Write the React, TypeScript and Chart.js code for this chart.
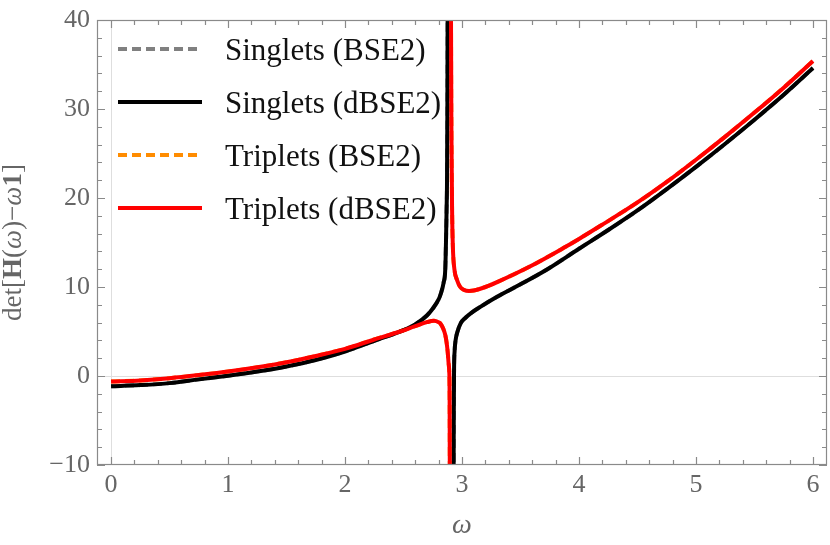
import React, { useEffect, useRef } from 'react';
import { Chart, registerables } from 'chart.js';

Chart.register(...registerables);

// ---------- data ----------
const seriesNames = ['Singlets (BSE2)', 'Singlets (dBSE2)', 'Triplets (BSE2)', 'Triplets (dBSE2)'];
const seriesColors = ['#808080', '#000000', '#ff8c00', '#ff0000'];

const omegaSinglets = [
  0, 0.25, 0.5, 0.75, 1.0, 1.25, 1.5, 1.75, 2.0, 2.25, 2.5, 2.6, 2.7, 2.757, 2.8, 2.815, 2.843,
  2.857, 2.863, 2.868, 2.872, 2.875, 2.877, 2.879, 2.9,
  2.926, 2.928, 2.93, 2.932, 2.937, 2.945, 2.962, 2.99, 3.03, 3.08, 3.16, 3.3, 3.5, 3.73, 4.0,
  4.25, 4.5, 4.75, 5.0, 5.25, 5.5, 5.75, 6.0,
];
const singletsDBSE2: (number | null)[] = [
  -1.15, -1.02, -0.8, -0.38, 0.03, 0.5, 1.07, 1.8, 2.75, 3.95, 5.15, 5.8, 6.8, 7.7, 8.6, 9.1, 10.5,
  12.0, 15.0, 18.5, 22.0, 30.0, 40.0, 60.0, null,
  -60.0, -15.0, -4.0, 0.5, 2.8, 4.0, 5.0, 5.95, 6.55, 7.1, 7.8, 8.9, 10.3, 12.0, 14.3,
  16.4, 18.6, 21.0, 23.5, 26.1, 28.8, 31.6, 34.6,
];
const singletsBSE2 = singletsDBSE2;

const omegaTriplets = [
  0, 0.25, 0.5, 0.75, 1.0, 1.25, 1.5, 1.75, 2.0, 2.25, 2.47, 2.6, 2.7, 2.76, 2.8, 2.815, 2.84,
  2.857, 2.868, 2.877, 2.885, 2.891, 2.894, 2.8955, 2.897, 2.9,
  2.903, 2.906, 2.91, 2.915, 2.922, 2.935, 2.957, 2.985, 3.014, 3.06, 3.1, 3.2, 3.3, 3.58, 3.87,
  4.0, 4.18, 4.5, 4.75, 5.0, 5.25, 5.5, 5.75, 6.0,
];
const tripletsDBSE2: (number | null)[] = [
  -0.63, -0.5, -0.25, 0.1, 0.5, 0.98, 1.55, 2.25, 3.05, 4.1, 5.0, 5.6, 6.05, 6.2, 6.05, 5.9, 5.3,
  4.6, 3.8, 2.8, 1.5, 0.5, -2.0, -10.0, -40.0, null,
  70.0, 40.0, 27.0, 19.0, 14.5, 12.0, 10.8, 10.0, 9.7, 9.55, 9.6, 10.0, 10.55, 12.3, 14.4,
  15.4, 16.85, 19.5, 21.8, 24.3, 26.9, 29.6, 32.4, 35.4,
];
const tripletsBSE2 = tripletsDBSE2;

const xTicks = [0, 1, 2, 3, 4, 5, 6];
const yTicks = [-10, 0, 10, 20, 30, 40];
const xRange = [-0.12, 6.12];
const yRange = [-10, 40];
const xMinorStep = 0.2;
const yMinorStep = 2;

// ---------- styling ----------
const SERIF = "'Liberation Serif', 'Times New Roman', serif";
const AXIS_GRAY = '#666666';
const FRAME_GRAY = '#8a8a8a';

const toPoints = (xs: number[], ys: (number | null)[]) => xs.map((x, i) => ({ x, y: ys[i] }));

const mmaPlugin = {
  id: 'mmaFrame',
  beforeDatasetsDraw(chart: any) {
    const { ctx, chartArea: a, scales } = chart;
    const x = scales.x, y = scales.y;
    ctx.save();
    ctx.strokeStyle = '#dedede';
    ctx.lineWidth = 1;
    const y0 = Math.round(y.getPixelForValue(0)) + 0.5;
    ctx.beginPath(); ctx.moveTo(a.left, y0); ctx.lineTo(a.right, y0); ctx.stroke();
    const x0 = Math.round(x.getPixelForValue(0)) + 0.5;
    ctx.beginPath(); ctx.moveTo(x0, a.top); ctx.lineTo(x0, a.bottom); ctx.stroke();
    ctx.restore();
  },
  afterDatasetsDraw(chart: any) {
    const { ctx, chartArea: a, scales } = chart;
    const x = scales.x, y = scales.y;
    ctx.save();
    // frame
    ctx.strokeStyle = FRAME_GRAY;
    ctx.lineWidth = 1.2;
    ctx.strokeRect(a.left + 0.5, a.top + 0.5, a.right - a.left - 1, a.bottom - a.top - 1);
    // ticks (inward, all four sides)
    const major = 8, minor = 5;
    const nx = Math.round((xTicks[xTicks.length - 1] - xTicks[0]) / xMinorStep);
    for (let i = 0; i <= nx; i++) {
      const v = xTicks[0] + i * xMinorStep;
      const isMajor = xTicks.some((t) => Math.abs(t - v) < 1e-6);
      const len = isMajor ? major : minor;
      const px = Math.round(x.getPixelForValue(v)) + 0.5;
      ctx.beginPath();
      ctx.moveTo(px, a.bottom); ctx.lineTo(px, a.bottom - len);
      ctx.moveTo(px, a.top); ctx.lineTo(px, a.top + len);
      ctx.stroke();
    }
    const ny = Math.round((yTicks[yTicks.length - 1] - yTicks[0]) / yMinorStep);
    for (let i = 0; i <= ny; i++) {
      const v = yTicks[0] + i * yMinorStep;
      const isMajor = yTicks.some((t) => Math.abs(t - v) < 1e-6);
      const len = isMajor ? major : minor;
      const py = Math.round(y.getPixelForValue(v)) + 0.5;
      ctx.beginPath();
      ctx.moveTo(a.left, py); ctx.lineTo(a.left + len, py);
      ctx.moveTo(a.right, py); ctx.lineTo(a.right - len, py);
      ctx.stroke();
    }
    // legend
    chart.data.datasets.forEach((ds: any, k: number) => {
      const ly = a.top + 29 + 53 * k;
      ctx.strokeStyle = ds.borderColor;
      ctx.lineWidth = 4;
      ctx.setLineDash(ds.borderDash || []);
      ctx.beginPath();
      ctx.moveTo(a.left + 21, ly);
      ctx.lineTo(a.left + 105, ly);
      ctx.stroke();
      ctx.setLineDash([]);
      ctx.fillStyle = '#111111';
      ctx.font = `31px ${SERIF}`;
      ctx.textAlign = 'left';
      ctx.textBaseline = 'alphabetic';
      ctx.fillText(ds.label, a.left + 128, ly + 11);
    });
    // y-axis title (rich text)
    const parts: [string, string][] = [
      ['det[', ''], ['H', 'bold '], ['(', ''], ['ω', 'italic '], [')−', ''], ['ω', 'italic '], ['1', 'bold '], [']', ''],
    ];
    const size = 27;
    let total = 0;
    const widths = parts.map(([t, s]) => {
      ctx.font = `${s}${size}px ${SERIF}`;
      const w = ctx.measureText(t).width;
      total += w;
      return w;
    });
    ctx.translate(21, (a.top + a.bottom) / 2);
    ctx.rotate(-Math.PI / 2);
    ctx.fillStyle = AXIS_GRAY;
    ctx.textBaseline = 'alphabetic';
    let cx = -total / 2;
    parts.forEach(([t, s], i) => {
      ctx.font = `${s}${size}px ${SERIF}`;
      ctx.fillText(t, cx, 0);
      cx += widths[i];
    });
    ctx.restore();
  },
};

const fmt = (v: number) => (v < 0 ? '\u2212' + Math.abs(v) : String(v));

export default function App() {
  const ref = useRef<HTMLCanvasElement | null>(null);
  useEffect(() => {
    if (!ref.current) return;
    const mk = (label: string, xs: number[], ys: (number | null)[], color: string, dash: number[], order: number) => ({
      label,
      data: toPoints(xs, ys),
      borderColor: color,
      backgroundColor: color,
      borderWidth: 4,
      borderDash: dash,
      pointRadius: 0,
      pointHoverRadius: 0,
      fill: false,
      spanGaps: false,
      cubicInterpolationMode: 'monotone' as const,
      clip: 0,
      order,
    });
    const chart = new Chart(ref.current, {
      type: 'line',
      data: {
        datasets: [
          mk(seriesNames[0], omegaSinglets, singletsBSE2, seriesColors[0], [9, 5], 3),
          mk(seriesNames[1], omegaSinglets, singletsDBSE2, seriesColors[1], [], 1),
          mk(seriesNames[2], omegaTriplets, tripletsBSE2, seriesColors[2], [9, 5], 2),
          mk(seriesNames[3], omegaTriplets, tripletsDBSE2, seriesColors[3], [], 0),
        ],
      },
      options: {
        animation: false,
        responsive: true,
        maintainAspectRatio: false,
        layout: { padding: { top: 14, right: 3, left: 0, bottom: 0 } },
        plugins: { legend: { display: false }, tooltip: { enabled: false } },
        events: [],
        scales: {
          x: {
            type: 'linear',
            min: xRange[0],
            max: xRange[1],
            afterBuildTicks: (s: any) => { s.ticks = xTicks.map((v) => ({ value: v })); },
            afterFit: (s: any) => { s.height = 80; },
            grid: { display: false, drawTicks: false },
            border: { display: false },
            ticks: {
              padding: 7,
              color: AXIS_GRAY,
              font: { family: SERIF, size: 26, lineHeight: 1 },
              maxRotation: 0,
              autoSkip: false,
              callback: (v: any) => fmt(Number(v)),
            },
            title: {
              display: true,
              text: 'ω',
              color: AXIS_GRAY,
              font: { family: SERIF, size: 28, style: 'italic' },
              padding: { top: 0, bottom: 3 },
            },
          },
          y: {
            type: 'linear',
            min: yRange[0],
            max: yRange[1],
            afterBuildTicks: (s: any) => { s.ticks = yTicks.map((v) => ({ value: v })); },
            afterFit: (s: any) => { s.width = 97; },
            grid: { display: false, drawTicks: false },
            border: { display: false },
            ticks: {
              padding: 7,
              color: AXIS_GRAY,
              font: { family: SERIF, size: 26, lineHeight: 1 },
              autoSkip: false,
              callback: (v: any) => fmt(Number(v)),
            },
            title: { display: false },
          },
        },
      },
      plugins: [mmaPlugin],
    } as any);
    return () => chart.destroy();
  }, []);
  return (
    <div style={{ position: 'fixed', left: 0, top: 0, width: 830, height: 545, background: '#ffffff' }}>
      <canvas ref={ref} />
    </div>
  );
}
